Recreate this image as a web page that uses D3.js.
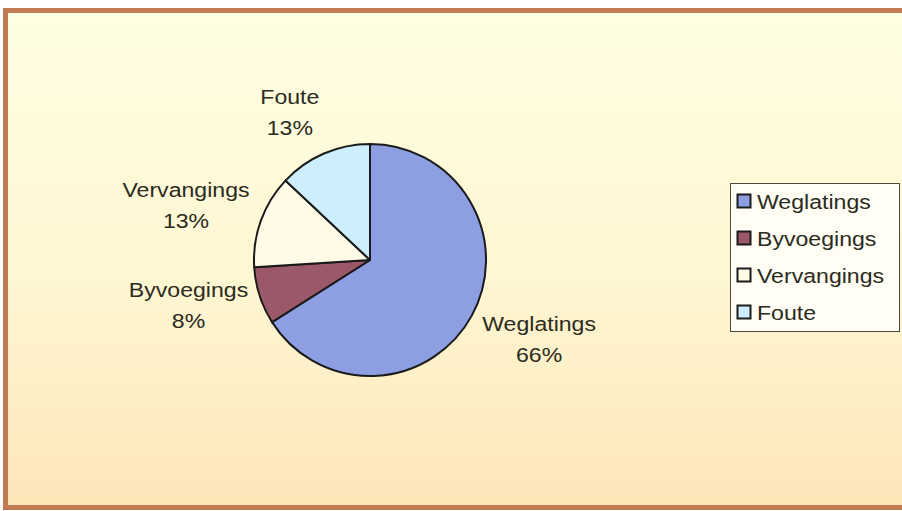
<!DOCTYPE html>
<html>
<head>
<meta charset="utf-8">
<script src="https://cdn.jsdelivr.net/npm/d3@7"></script>
<style>
  body { margin: 0; background: #fff; }
  text { font-family: "Liberation Sans", Arial, sans-serif; fill: #2b2b20; }
</style>
</head>
<body>
<svg id="chart" width="902" height="511"></svg>
<script>
// data
var categories = ["Weglatings", "Byvoegings", "Vervangings", "Foute"];
var values = [66, 8, 13, 13];
var colors = ["#8d9ee2", "#9b5868", "#fffbe6", "#cdeefd"];

var svg = d3.select("#chart"),
    width = +svg.attr("width"),
    height = +svg.attr("height");

var stretch = 1.1; // text in the picture is drawn a bit wide

// background gradient
var defs = svg.append("defs");
var grad = defs.append("linearGradient")
    .attr("id", "bg")
    .attr("x1", 0).attr("y1", 0).attr("x2", 0).attr("y2", 1);
grad.append("stop").attr("offset", "0%").attr("stop-color", "#fffee3");
grad.append("stop").attr("offset", "55%").attr("stop-color", "#fff6d2");
grad.append("stop").attr("offset", "100%").attr("stop-color", "#fde6b8");

svg.append("rect")
    .attr("x", 5.5).attr("y", 10.5)
    .attr("width", 910).attr("height", 497)
    .attr("fill", "url(#bg)")
    .attr("stroke", "#c27a52")
    .attr("stroke-width", 5);

// pie
var cx = 370, cy = 260, r = 116;
var data = categories.map(function(c, i) { return {name: c, value: values[i], color: colors[i]}; });
var total = d3.sum(values);

var pie = d3.pie().sort(null).value(function(d) { return d.value; });
var arc = d3.arc().innerRadius(0).outerRadius(r);
var anchorArc = d3.arc().innerRadius(r + 12).outerRadius(r + 12);

var g = svg.append("g").attr("transform", "translate(" + cx + "," + cy + ")");
var arcs = pie(data);

g.selectAll("path")
  .data(arcs)
  .enter().append("path")
    .attr("d", arc)
    .attr("fill", function(d) { return d.data.color; })
    .attr("stroke", "#1a1a1a")
    .attr("stroke-width", 2)
    .attr("stroke-linejoin", "round");

// labels, pushed outward from the anchor point like Excel does
var labels = g.selectAll("g.label")
  .data(arcs)
  .enter().append("g")
    .attr("class", "label");

labels.each(function(d) {
  var lg = d3.select(this);
  var t = lg.append("text")
      .attr("text-anchor", "middle")
      .style("font-size", "21px");
  t.append("tspan").attr("x", 0).attr("y", 0).text(d.data.name);
  t.append("tspan").attr("x", 0).attr("y", 31).text(Math.round(d.data.value / total * 100) + "%");

  var w = 0;
  t.selectAll("tspan").each(function() { w = Math.max(w, this.getComputedTextLength()); });
  w = w * stretch;
  var h = 62;
  var mid = (d.startAngle + d.endAngle) / 2;
  var sx = Math.sin(mid), sy = -Math.cos(mid);
  var a = anchorArc.centroid(d);
  var bx = a[0] + w / 2 * Math.max(-1, Math.min(1, sx * 2.5));
  var k = sy > 0 && sy < 0.4 ? 0.6 : 1.15;
  var by = a[1] + h / 2 * Math.max(-1, Math.min(1, sy * k));
  lg.attr("transform", "translate(" + bx + "," + (by - 8) + ") scale(" + stretch + ",1)");
});

// legend
var legend = svg.append("g").attr("transform", "translate(730,183)");
legend.append("rect")
    .attr("x", 0.5).attr("y", 0.5)
    .attr("width", 169).attr("height", 148)
    .attr("fill", "#fffdf4")
    .attr("stroke", "#4a4a40")
    .attr("stroke-width", 1);

var rowY = d3.scaleBand().domain(categories).range([0, 148]);

var items = legend.selectAll("g.item")
  .data(data)
  .enter().append("g")
    .attr("class", "item")
    .attr("transform", function(d) { return "translate(0," + (rowY(d.name) + rowY.bandwidth() / 2) + ")"; });

items.append("rect")
    .attr("x", 7.5).attr("y", -7)
    .attr("width", 13).attr("height", 13)
    .attr("fill", function(d) { return d.color; })
    .attr("stroke", "#1a1a1a")
    .attr("stroke-width", 2);

items.append("text")
    .attr("transform", "translate(27,7.5) scale(" + stretch + ",1)")
    .style("font-size", "21px")
    .text(function(d) { return d.name; });
</script>
</body>
</html>
